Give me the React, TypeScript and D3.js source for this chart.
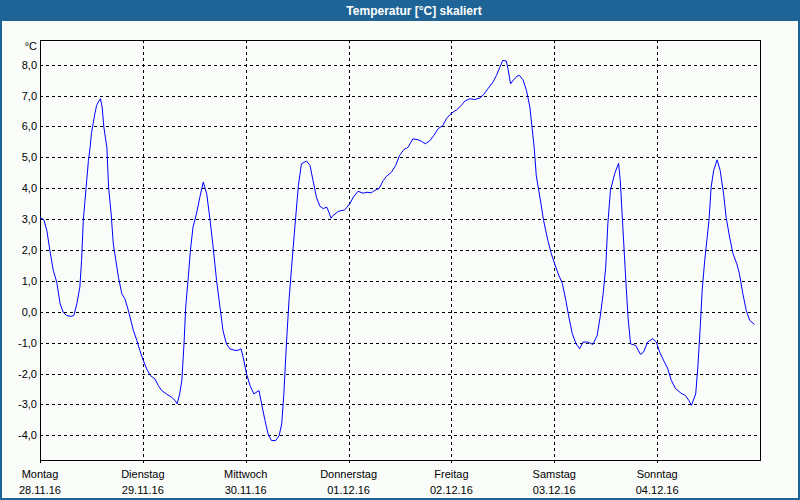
import React from "react";
import * as d3 from "d3";

const title = "Temperatur [°C] skaliert";
const unitLabel = "°C";
const dayNames = ["Montag", "Dienstag", "Mittwoch", "Donnerstag", "Freitag", "Samstag", "Sonntag"];
const dayDates = ["28.11.16", "29.11.16", "30.11.16", "01.12.16", "02.12.16", "03.12.16", "04.12.16"];
const yTicks = [-4, -3, -2, -1, 0, 1, 2, 3, 4, 5, 6, 7, 8];

// hours since Monday 00:00
const hours = [
  0, 0.9, 1.6, 2.3, 3.1, 3.9, 4.7, 5.4, 6.2, 7.2, 7.9, 8.6, 9.3, 9.7, 10.1, 10.5, 10.9, 11.3, 11.7, 12.0,
  12.4, 12.8, 13.2, 13.6, 14.1, 14.5, 14.9, 15.6, 16.0, 16.6, 17.1, 17.7, 18.3, 19.1, 19.8, 20.4, 21.0, 21.8, 22.6, 23.3,
  24.1, 24.9, 25.7, 26.8, 27.6, 28.4, 29.5, 30.7, 31.5, 32.0, 32.6, 33.1, 33.6, 34.0, 34.6, 35.1, 35.7, 36.5, 37.3, 38.1,
  38.9, 39.6, 40.4, 41.2, 42.0, 42.7, 43.5, 44.3, 45.5, 46.2, 46.9, 47.4, 48.2, 49.0, 49.9, 51.1, 51.7, 52.5, 53.2, 54.0,
  55.0, 55.8, 56.4, 56.9, 57.5, 58.1, 58.7, 59.5, 60.3, 61.0, 62.2, 63.0, 63.7, 64.5, 65.3, 66.1, 66.9, 67.4, 67.9, 68.4,
  69.6, 71.1, 72.3, 73.1, 74.2, 75.4, 76.3, 77.3, 78.1, 79.1, 80.1, 80.8, 82.0, 83.0, 83.9, 84.9, 85.9, 87.0, 88.2, 89.0,
  89.9, 90.9, 91.9, 92.9, 94.0, 94.8, 96.0, 97.2, 98.3, 99.1, 100.3, 101.4, 102.6, 103.5, 104.5, 105.7, 106.5, 107.3, 108.0, 108.8,
  109.2, 109.8, 110.5, 111.3, 111.9, 112.7, 113.5, 114.3, 114.8, 115.3, 115.8, 116.6, 117.5, 118.5, 119.3, 120.1, 120.9, 121.9, 122.7, 123.4,
  124.2, 125.1, 125.9, 126.7, 127.9, 129.0, 130.0, 130.7, 131.4, 132.0, 132.5, 133.1, 134.1, 135.0, 135.4, 136.0, 136.6, 137.2, 137.8, 139.0,
  140.1, 140.8, 141.8, 143.0, 143.8, 144.6, 145.7, 146.5, 147.3, 148.3, 149.6, 150.6, 151.4, 152.0, 153.0, 153.5, 154.1, 154.5, 155.1, 155.6,
  156.1, 156.6, 157.2, 158.0, 158.7, 159.5, 160.1, 160.9, 161.7, 162.6, 163.2, 164.0, 164.8, 165.6, 166.7,
];

const temps = [
  3.06, 2.98, 2.63, 1.99, 1.34, 0.96, 0.26, -0.01, -0.12, -0.15, -0.12, 0.26, 0.8, 1.66, 2.96, 3.6, 4.25, 4.9, 5.33, 5.77,
  6.09, 6.41, 6.68, 6.79, 6.9, 6.63, 5.98, 5.33, 4.04, 3.17, 2.2, 1.66, 1.12, 0.58, 0.42, 0.15, -0.17, -0.61, -0.93, -1.25,
  -1.58, -1.85, -2.06, -2.17, -2.39, -2.55, -2.66, -2.77, -2.87, -2.98, -2.66, -2.22, -1.04, 0.15, 1.12, 1.99, 2.74, 3.17, 3.71, 4.2,
  3.82, 3.06, 2.09, 1.01, 0.15, -0.61, -1.04, -1.2, -1.25, -1.25, -1.2, -1.47, -2.01, -2.39, -2.66, -2.55, -2.98, -3.52, -3.95, -4.17,
  -4.17, -4.01, -3.63, -2.66, -1.04, 0.37, 1.44, 2.8, 4.1, 4.79, 4.88, 4.74, 4.25, 3.71, 3.42, 3.34, 3.39, 3.23, 3.03, 3.12,
  3.25, 3.3, 3.5, 3.71, 3.9, 3.84, 3.87, 3.85, 3.93, 3.99, 4.25, 4.38, 4.52, 4.74, 5.06, 5.25, 5.33, 5.6, 5.57, 5.52,
  5.44, 5.53, 5.71, 5.93, 6.03, 6.25, 6.43, 6.54, 6.68, 6.82, 6.9, 6.87, 6.92, 7.03, 7.22, 7.44, 7.65, 7.92, 8.14, 8.12,
  7.87, 7.38, 7.51, 7.63, 7.65, 7.51, 7.17, 6.63, 5.98, 5.33, 4.4, 3.75, 2.96, 2.31, 1.88, 1.55, 1.23, 0.91, 0.37, -0.17,
  -0.71, -1.04, -1.2, -0.98, -0.98, -1.06, -0.77, -0.17, 0.58, 1.44, 2.85, 3.93, 4.47, 4.81, 4.25, 2.74, 1.23, -0.17, -1.04, -1.09,
  -1.38, -1.31, -0.98, -0.87, -0.98, -1.31, -1.63, -1.85, -2.22, -2.49, -2.64, -2.71, -2.87, -3.03, -2.66, -1.79, -0.39, 0.69, 1.66, 2.31,
  2.96, 4.04, 4.58, 4.92, 4.58, 3.82, 3.06, 2.42, 1.88, 1.55, 1.23, 0.58, 0.04, -0.28, -0.41,
];

const W = 800;
const H = 500;
const left = 40;
const right = 760;
const top = 40;
const bottom = 460;
const font = "'Liberation Sans', Arial, sans-serif";

export default function App() {
  const x = d3.scaleLinear().domain([0, 168]).range([left, right]);
  const y = d3.scaleLinear().domain([-4.8, 8.8]).range([bottom, top]);
  const data = hours.map((h, i) => [h, temps[i]] as [number, number]);
  const line = d3
    .line<[number, number]>()
    .x((d) => x(d[0]))
    .y((d) => y(d[1]));
  const fmt = (v: number) => v.toFixed(1).replace(".", ",");
  const px = (v: number) => Math.round(v) + 0.5;

  return (
    <svg
      width={W}
      height={H}
      style={{ position: "absolute", left: 0, top: 0, display: "block" }}
      fontFamily={font}
    >
      <rect x={0} y={0} width={W} height={H} fill="#1e6496" />
      <rect x={2} y={21} width={W - 4} height={H - 23} fill="#fafcfa" />
      <text x={414} y={15} textAnchor="middle" fill="#ffffff" fontWeight="bold" fontSize={12}>
        {title}
      </text>

      {/* horizontal grid */}
      {yTicks.map((t) => (
        <line
          key={"h" + t}
          x1={left}
          x2={right}
          y1={px(y(t))}
          y2={px(y(t))}
          stroke="#000"
          strokeDasharray="3,3"
          shapeRendering="crispEdges"
        />
      ))}
      {/* vertical grid */}
      {dayNames.map((_, i) =>
        i === 0 ? null : (
          <line
            key={"v" + i}
            x1={px(x(i * 24))}
            x2={px(x(i * 24))}
            y1={top}
            y2={bottom}
            stroke="#000"
            strokeDasharray="3,3"
            shapeRendering="crispEdges"
          />
        )
      )}

      {/* frame */}
      <rect
        x={left + 0.5}
        y={top + 0.5}
        width={right - left}
        height={bottom - top}
        fill="none"
        stroke="#000"
        shapeRendering="crispEdges"
      />
      <line x1={left + 0.5} x2={left + 0.5} y1={top} y2={bottom + 3} stroke="#000" strokeWidth={1} shapeRendering="crispEdges" />
      {dayNames.map((_, i) => (
        <line
          key={"t" + i}
          x1={px(x(i * 24))}
          x2={px(x(i * 24))}
          y1={bottom}
          y2={bottom + 3}
          stroke="#000"
          shapeRendering="crispEdges"
        />
      ))}

      {/* y labels */}
      {yTicks.map((t) => (
        <text key={"yl" + t} x={37} y={y(t) + 4} textAnchor="end" fontSize={11} fill="#000">
          {fmt(t)}
        </text>
      ))}
      <text x={37} y={50} textAnchor="end" fontSize={11} fill="#000">
        {unitLabel}
      </text>

      {/* x labels */}
      {dayNames.map((n, i) => (
        <g key={"xl" + i}>
          <text x={x(i * 24)} y={478} textAnchor="middle" fontSize={11} fill="#000">
            {n}
          </text>
          <text x={x(i * 24)} y={494} textAnchor="middle" fontSize={11} fill="#000">
            {dayDates[i]}
          </text>
        </g>
      ))}

      <path d={line(data) || ""} fill="none" stroke="#0000ff" strokeWidth={1} />
    </svg>
  );
}
